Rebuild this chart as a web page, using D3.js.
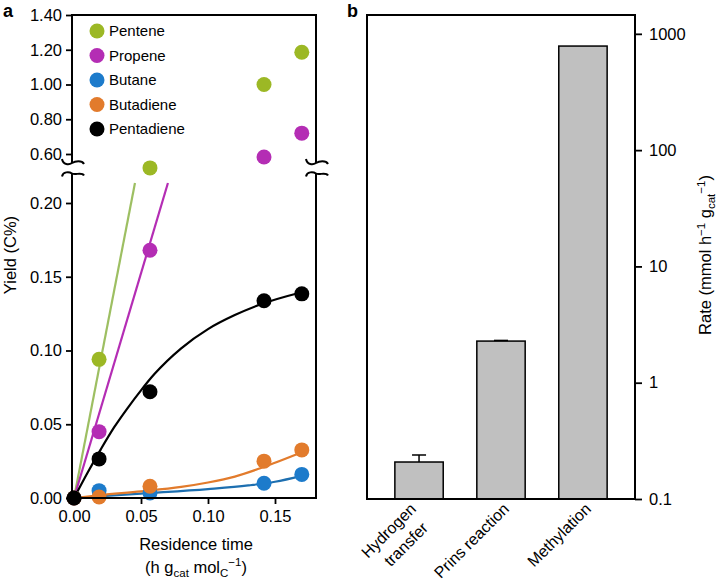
<!DOCTYPE html>
<html><head><meta charset="utf-8">
<script src="https://cdn.jsdelivr.net/npm/d3@7"></script>
<style>body{margin:0;background:#fff}svg{font-family:"Liberation Sans",Arial,Helvetica,sans-serif}</style>
</head><body><svg id="c" width="716" height="582"></svg>
<script>
// ---- Panel a data ----
const times = [0, 0.0187, 0.0567, 0.1418, 0.170];
const seriesNames = ["Pentene", "Propene", "Butane", "Butadiene", "Pentadiene"];
const seriesColors = ["#9cb825", "#b42db4", "#1d7bcb", "#e27b2c", "#000000"];
const lineColors = ["#9dbf62", "#b42db4", "#1d6fb0", "#e27b2c", "#000000"];
const pentene = [0, 0.094, 0.52, 1.00, 1.186];
const propene = [0, 0.045, 0.168, 0.583, 0.72];
const butane = [0, 0.005, 0.0034, 0.010, 0.016];
const butadiene = [0, 0.0007, 0.008, 0.025, 0.0326];
const pentadiene = [0, 0.0265, 0.072, 0.1337, 0.1384];
// fitted curves
const penteneFitX = [0, 0.0455], penteneFitY = [0, 0.2136];
const propeneFitX = [0, 0.0701], propeneFitY = [0, 0.2136];
const butaneFitX = [0, 0.05, 0.10, 0.13, 0.15, 0.17];
const butaneFitY = [0, 0.003, 0.006, 0.0085, 0.011, 0.015];
const butadieneFitX = [0, 0.02, 0.05, 0.08, 0.10, 0.12, 0.14, 0.17];
const butadieneFitY = [0, 0.002, 0.0045, 0.0075, 0.0105, 0.0145, 0.0205, 0.031];
const pentadieneFitX = [0, 0.01, 0.02, 0.03, 0.04, 0.05, 0.06, 0.08, 0.10, 0.12, 0.14, 0.17];
const pentadieneFitY = [0, 0.017, 0.033, 0.048, 0.061, 0.073, 0.084, 0.1015, 0.1145, 0.124, 0.1315, 0.1395];
const xTicksA = [0, 0.05, 0.10, 0.15];
const yTicksLow = [0, 0.05, 0.10, 0.15, 0.20];
const yTicksHigh = [0.60, 0.80, 1.00, 1.20, 1.40];
// ---- Panel b data ----
const reactions = ["Hydrogen transfer", "Prins reaction", "Methylation"];
const rates = [0.208, 2.28, 785];
const rateErrTop = [0.239, 2.31, null];
const rateTicks = [0.1, 1, 10, 100, 1000];

const svg = d3.select("#c");
const FS = 16.5;

// ================= Panel a =================
const L = 72, R = 316, T = 15, B = 498;
const x = d3.scaleLinear().domain([-0.0015, 0.1806]).range([L, R]);
const yLow = d3.scaleLinear().domain([0, 0.2]).range([B, 203]);
const yHigh = d3.scaleLinear().domain([0.6, 1.4]).range([154, T]);
const yAny = v => v > 0.3 ? yHigh(v) : yLow(v);
const gA = svg.append("g");

const fits = [
  [penteneFitX, penteneFitY, 0], [propeneFitX, propeneFitY, 1],
  [butaneFitX, butaneFitY, 2], [butadieneFitX, butadieneFitY, 3],
  [pentadieneFitX, pentadieneFitY, 4]
];
const line = d3.line().x(d => x(d[0])).y(d => yLow(d[1])).curve(d3.curveMonotoneX);
fits.forEach(([fx, fy, i]) => {
  gA.append("path").attr("d", line(fx.map((v, k) => [v, fy[k]])))
    .attr("fill", "none").attr("stroke", lineColors[i]).attr("stroke-width", 2.2);
});
const allSeries = [pentene, propene, butane, butadiene, pentadiene];
allSeries.forEach((s, i) => {
  gA.selectAll(null).data(s.map((v, k) => [times[k], v])).enter().append("circle")
    .attr("cx", d => x(d[0])).attr("cy", d => yAny(d[1])).attr("r", 7.5)
    .attr("fill", seriesColors[i]);
});

// box
const gap1 = 163, gap2 = 173.5;
const box = gA.append("g").attr("stroke", "#000").attr("stroke-width", 2).attr("fill", "none");
box.append("line").attr("x1", L).attr("x2", R).attr("y1", T).attr("y2", T);
box.append("line").attr("x1", L - 1).attr("x2", R + 1).attr("y1", B).attr("y2", B);
[L, R].forEach(xx => {
  box.append("line").attr("x1", xx).attr("x2", xx).attr("y1", T - 1).attr("y2", gap1);
  box.append("line").attr("x1", xx).attr("x2", xx).attr("y1", gap2).attr("y2", B + 1);
  box.append("path").attr("stroke-width", 2)
    .attr("d", `M${xx - 10},${gap1 - 4} C${xx - 9},${gap1 + 2} ${xx - 3},${gap1 + 2} ${xx},${gap1} C${xx + 3},${gap1 - 2} ${xx + 10},${gap1 - 3} ${xx + 12},${gap1 + 1}`);
  box.append("path").attr("stroke-width", 2)
    .attr("d", `M${xx - 10},${gap2 + 3} C${xx - 9},${gap2 - 2} ${xx - 3},${gap2 - 2} ${xx},${gap2} C${xx + 3},${gap2 + 2} ${xx + 10},${gap2 - 2} ${xx + 12},${gap2 + 2}`);
});

// axes
const axStyle = g => {
  g.select(".domain").remove();
  g.selectAll(".tick line").attr("stroke", "#000").attr("stroke-width", 1.8);
  g.selectAll(".tick text").attr("font-size", FS).attr("fill", "#000")
    .attr("font-family", '"Liberation Sans",Arial,sans-serif');
};
gA.append("g").attr("transform", `translate(${L},0)`)
  .call(d3.axisLeft(yLow).tickValues(yTicksLow).tickFormat(d3.format(".2f")).tickSize(6).tickPadding(4)).call(axStyle);
gA.append("g").attr("transform", `translate(${L},0)`)
  .call(d3.axisLeft(yHigh).tickValues(yTicksHigh).tickFormat(d3.format(".2f")).tickSize(6).tickPadding(4)).call(axStyle);
gA.append("g").attr("transform", `translate(0,${B})`)
  .call(d3.axisBottom(x).tickValues(xTicksA).tickFormat(d3.format(".2f")).tickSize(6).tickPadding(6)).call(axStyle);

// legend
seriesNames.forEach((n, i) => {
  const yy = 31 + i * 24.5;
  gA.append("circle").attr("cx", 97).attr("cy", yy).attr("r", 7.5).attr("fill", seriesColors[i]);
  gA.append("text").attr("x", 109).attr("y", yy).attr("dy", "0.36em").attr("font-size", 15).text(n);
});

// axis labels
gA.append("text").attr("transform", "translate(16,255) rotate(-90)").attr("text-anchor", "middle")
  .attr("font-size", FS).text("Yield (C%)");
gA.append("text").attr("x", 196).attr("y", 550).attr("text-anchor", "middle").attr("font-size", FS).text("Residence time");
const t2 = gA.append("text").attr("x", 196).attr("y", 573).attr("text-anchor", "middle").attr("font-size", FS);
t2.append("tspan").text("(h g");
t2.append("tspan").attr("font-size", 11.5).attr("dy", 4).text("cat");
t2.append("tspan").attr("dy", -4).text(" mol");
t2.append("tspan").attr("font-size", 11.5).attr("dy", 4).text("C");
t2.append("tspan").attr("font-size", 11.5).attr("dy", -11).text("\u22121");
t2.append("tspan").attr("dy", 7).text(")");

svg.append("text").attr("x", 3).attr("y", 17).attr("font-weight", "bold").attr("font-size", 18).text("a");
svg.append("text").attr("x", 347).attr("y", 17).attr("font-weight", "bold").attr("font-size", 18).text("b");

// ================= Panel b =================
const L2 = 367, R2 = 635, T2 = 15, B2 = 499;
const xb = d3.scaleBand().domain(reactions).range([L2, R2]).paddingInner(0.41).paddingOuter(0.34);
const yb = d3.scaleLog().domain([0.1, 1452]).range([B2, T2]);
const gB = svg.append("g");
gB.selectAll(null).data(reactions).enter().append("rect")
  .attr("x", d => xb(d)).attr("width", xb.bandwidth())
  .attr("y", (d, i) => yb(rates[i])).attr("height", (d, i) => B2 - yb(rates[i]))
  .attr("fill", "#c0c0c0").attr("stroke", "#000").attr("stroke-width", 1.5);
reactions.forEach((r, i) => {
  if (rateErrTop[i] == null) return;
  const cx = xb(r) + xb.bandwidth() / 2;
  gB.append("line").attr("x1", cx).attr("x2", cx).attr("y1", yb(rates[i])).attr("y2", yb(rateErrTop[i]))
    .attr("stroke", "#000").attr("stroke-width", 1.5);
  gB.append("line").attr("x1", cx - 7).attr("x2", cx + 7).attr("y1", yb(rateErrTop[i])).attr("y2", yb(rateErrTop[i]))
    .attr("stroke", "#000").attr("stroke-width", 1.5);
});
const boxB = gB.append("g").attr("stroke", "#000").attr("stroke-width", 2).attr("fill", "none");
boxB.append("rect").attr("x", L2).attr("y", T2).attr("width", R2 - L2).attr("height", B2 - T2);
gB.append("g").attr("transform", `translate(${R2},0)`)
  .call(d3.axisRight(yb).tickValues(rateTicks).tickFormat(d => String(d)).tickSize(7).tickPadding(7)).call(axStyle);

// rotated x labels
const labelLines = [["Hydrogen", "transfer"], ["Prins reaction"], ["Methylation"]];
reactions.forEach((r, i) => {
  const cx = xb(r) + xb.bandwidth() / 2;
  const lines = labelLines[i];
  const offs = lines.length === 1 ? [[9, 510]] : [[-2, 510], [10, 529]];
  lines.forEach((s, k) => {
    gB.append("text").attr("transform", `translate(${cx + offs[k][0]},${offs[k][1]}) rotate(-45)`)
      .attr("text-anchor", "end").attr("font-size", 16).text(s);
  });
});

// right label
const rl = gB.append("text").attr("transform", "translate(711,255) rotate(-90)").attr("text-anchor", "middle").attr("font-size", FS);
rl.append("tspan").text("Rate (mmol h");
rl.append("tspan").attr("font-size", 11.5).attr("dy", -6).text("\u22121");
rl.append("tspan").attr("dy", 6).text(" g");
rl.append("tspan").attr("font-size", 11.5).attr("dy", 4).text("cat");
rl.append("tspan").attr("font-size", 11.5).attr("dy", -10).text("\u22121");
rl.append("tspan").attr("dy", 6).text(")");
</script></body></html>
